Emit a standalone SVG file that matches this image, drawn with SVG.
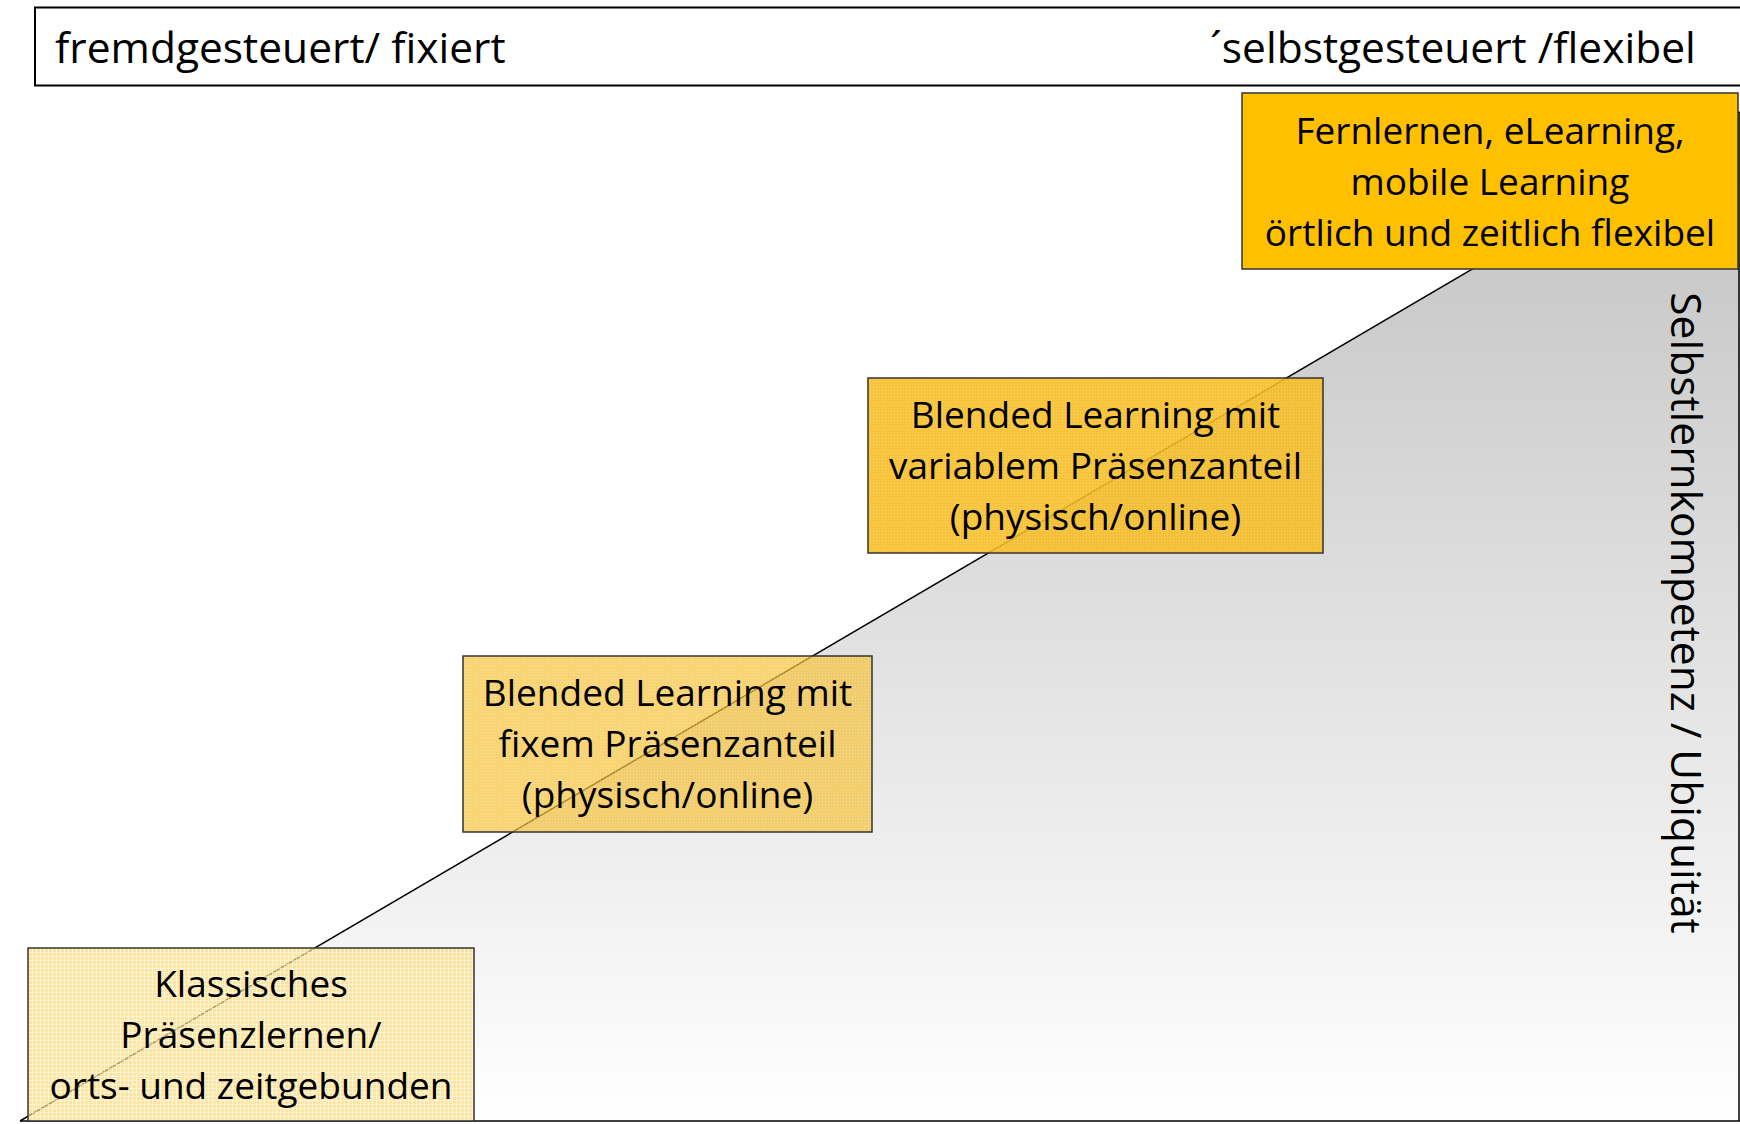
<svg xmlns="http://www.w3.org/2000/svg" width="1740" height="1124" viewBox="0 0 1740 1124">
  <defs>
    <linearGradient id="gray" gradientUnits="userSpaceOnUse" x1="0" y1="112" x2="0" y2="1121">
      <stop offset="0" stop-color="#c0c0c0"/>
      <stop offset="1" stop-color="#ffffff"/>
    </linearGradient>
    <pattern id="grid" width="4" height="4" patternUnits="userSpaceOnUse">
      <rect width="4" height="4" fill="#fcdc80" fill-opacity="0.7"/>
      <path d="M0 0.5H4M0.5 0V4" stroke="#ffffff" stroke-opacity="0.45" stroke-width="1"/>
    </pattern>
    <pattern id="dots1" width="3" height="3" patternUnits="userSpaceOnUse">
      <rect width="3" height="3" fill="#f5c23a" fill-opacity="0.7"/>
      <rect width="1" height="1" fill="#ffffff" fill-opacity="0.25"/>
    </pattern>
    <pattern id="dots2" width="3" height="3" patternUnits="userSpaceOnUse">
      <rect width="3" height="3" fill="#f5bb20" fill-opacity="0.88"/>
      <rect width="1" height="1" fill="#ffffff" fill-opacity="0.25"/>
    </pattern>
  </defs>
  <style>
    text { font-family: "Open Sans", "Noto Sans", "Liberation Sans", sans-serif; font-size: 37px; fill: #000; }
    .c { text-anchor: middle; }
    .big { font-size: 42.5px; }
    .box { stroke: #333333; stroke-width: 1.5; }
  </style>
  <rect width="1740" height="1124" fill="#ffffff"/>

  <g id="header">
    <rect x="35" y="7.5" width="1710" height="78" fill="#ffffff" stroke="#000" stroke-width="2"/>
    <text class="big" x="55" y="63">fremdgesteuert/ fixiert</text>
    <text class="big" x="1210" y="63">´selbstgesteuert /flexibel</text>
  </g>

  <g id="triangle">
    <polygon points="20,1121 1740,112 1740,1121" fill="url(#gray)"/>
    <line x1="20" y1="1121" x2="1740" y2="1121" stroke="#000" stroke-width="1.5"/>
    <line x1="1739" y1="112" x2="1739" y2="1121" stroke="#000" stroke-width="1.5"/>
  </g>

  <g id="connectors">
    <line x1="20" y1="1121" x2="1740" y2="112" stroke="#000" stroke-width="1.5"/>
  </g>

  <g id="node-klassisch">
    <rect class="box" x="28" y="948" width="446" height="173" fill="url(#grid)"/>
    <text class="c" x="251" y="997">Klassisches</text>
    <text class="c" x="251" y="1048">Präsenzlernen/</text>
    <text class="c" x="251" y="1099">orts- und zeitgebunden</text>
  </g>

  <g id="node-blended-fix">
    <rect class="box" x="463" y="656" width="409" height="176" fill="url(#dots1)"/>
    <text class="c" x="667.5" y="706">Blended Learning mit</text>
    <text class="c" x="667.5" y="757">fixem Präsenzanteil</text>
    <text class="c" x="667.5" y="808">(physisch/online)</text>
  </g>

  <g id="node-blended-var">
    <rect class="box" x="868" y="378" width="455" height="175" fill="url(#dots2)"/>
    <text class="c" x="1095.5" y="428">Blended Learning mit</text>
    <text class="c" x="1095.5" y="479">variablem Präsenzanteil</text>
    <text class="c" x="1095.5" y="530">(physisch/online)</text>
  </g>

  <g id="node-fernlernen">
    <rect class="box" x="1242" y="93" width="496" height="176" fill="#ffc000"/>
    <text class="c" x="1490" y="144">Fernlernen, eLearning,</text>
    <text class="c" x="1490" y="195">mobile Learning</text>
    <text class="c" x="1490" y="246">örtlich und zeitlich flexibel</text>
  </g>

  <g id="axis-label">
    <text class="c big" transform="translate(1671,613) rotate(90)">Selbstlernkompetenz / Ubiquität</text>
  </g>
</svg>
